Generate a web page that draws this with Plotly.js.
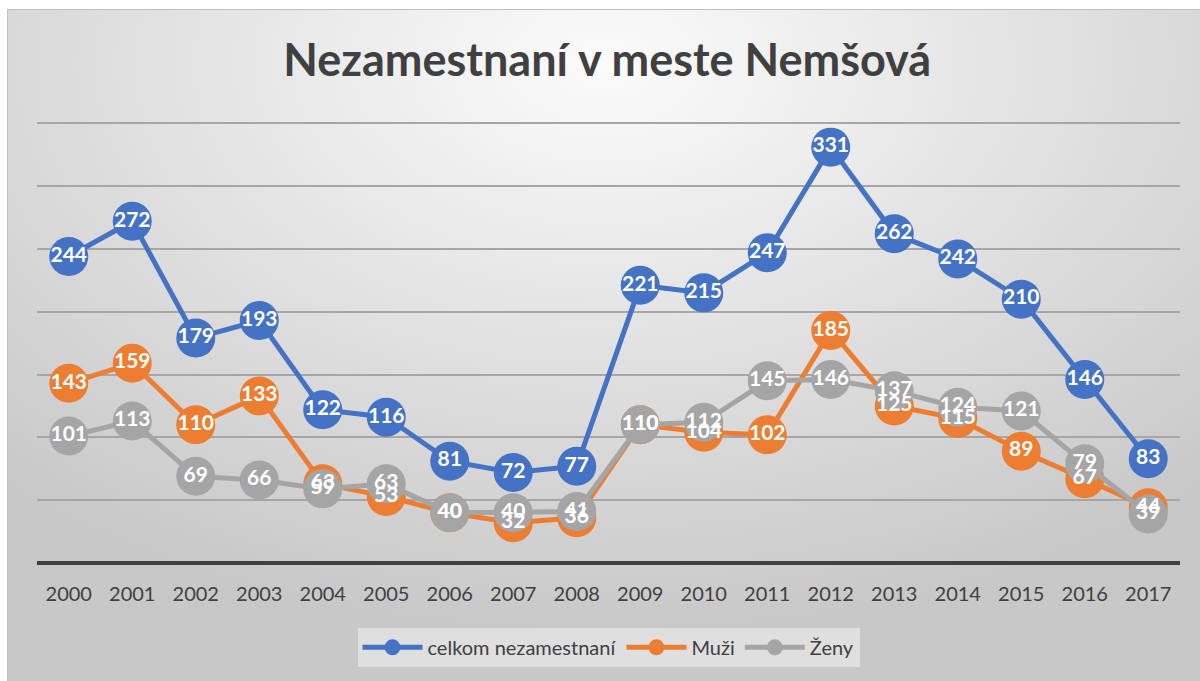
<!DOCTYPE html>
<html>
<head>
<meta charset="utf-8">
<script src="https://cdn.plot.ly/plotly-3.0.1.min.js"></script>
<style>
  html, body { margin: 0; padding: 0; background: #ffffff; }
  #bg { position: absolute; left: 7px; top: 9px; width: 1193px; height: 672px;
        background: radial-gradient(ellipse 75% 85% at 50% 8%, #fbfbfb 0%, #e4e4e4 45%, #c8c8c8 100%);
        border-top: 1px solid #c0c0c0; border-left: 1px solid #c0c0c0; }
  #chart { position: absolute; left: 0; top: 0; width: 1200px; height: 681px; }
</style>
</head>
<body>
<div id="bg"></div>
<div id="chart"></div>
<script>
const years = ['2000','2001','2002','2003','2004','2005','2006','2007','2008','2009','2010','2011','2012','2013','2014','2015','2016','2017'];
const celkom = [244,272,179,193,122,116,81,72,77,221,215,247,331,262,242,210,146,83];
const muzi   = [143,159,110,133,63,53,40,32,36,110,104,102,185,125,115,89,67,44];
const zeny   = [101,113,69,66,59,63,40,40,41,110,112,145,146,137,124,121,79,39];

const seriesNames = ['celkom nezamestnaní','Muži','Ženy'];
const seriesColors = ['#4472c4','#ed7d31','#a5a5a5'];
const seriesValues = [celkom, muzi, zeny];

const FONT = 'Lato, "Open Sans", sans-serif';

// lines + markers first
const markerTraces = seriesValues.map((vals, i) => ({
  type: 'scatter',
  mode: 'lines+markers',
  name: seriesNames[i],
  x: years,
  y: vals,
  line: {color: seriesColors[i], width: 5},
  marker: {color: seriesColors[i], size: 39},
  cliponaxis: false,
  hoverinfo: 'x+y+name'
}));
// data labels drawn above all markers (as in the original)
const labelTraces = seriesValues.map((vals, i) => ({
  type: 'scatter',
  mode: 'text',
  name: seriesNames[i],
  showlegend: false,
  x: years,
  y: vals,
  text: vals.map(String),
  textposition: 'middle center',
  textfont: {family: FONT, size: 21, color: '#ffffff', weight: 'bold'},
  cliponaxis: false,
  hoverinfo: 'skip'
}));

const layout = {
  width: 1200, height: 681,
  paper_bgcolor: 'rgba(0,0,0,0)',
  plot_bgcolor: 'rgba(0,0,0,0)',
  margin: {l: 37, r: 20, t: 122, b: 118},
  title: {text: '<b>Nezamestnaní v meste Nemšová</b>', x: 0.506, xanchor: 'center', y: 0.912, yanchor: 'middle',
          font: {family: FONT, size: 45, color: '#404040'}},
  xaxis: {
    type: 'category', range: [-0.5, 17.5],
    showgrid: false, zeroline: false,
    showline: false, ticks: '',
    tickfont: {family: FONT, size: 20, color: '#404040'},
    ticklabelstandoff: 17
  },
  yaxis: {
    range: [0, 351], dtick: 50,
    showticklabels: false,
    showgrid: true, gridcolor: '#a6a6a6', gridwidth: 1.5,
    zeroline: true, zerolinecolor: '#404040', zerolinewidth: 4,
    fixedrange: true
  },
  showlegend: true,
  legend: {
    orientation: 'h', x: 0.5, xanchor: 'center', y: -0.147, yanchor: 'top',
    bgcolor: 'rgba(232,232,232,0.7)',
    font: {family: FONT, size: 20, color: '#404040'},
    itemwidth: 60,
    tracegroupgap: 0
  }
};

Plotly.newPlot('chart', markerTraces.concat(labelTraces), layout, {displayModeBar: false});
</script>
</body>
</html>
